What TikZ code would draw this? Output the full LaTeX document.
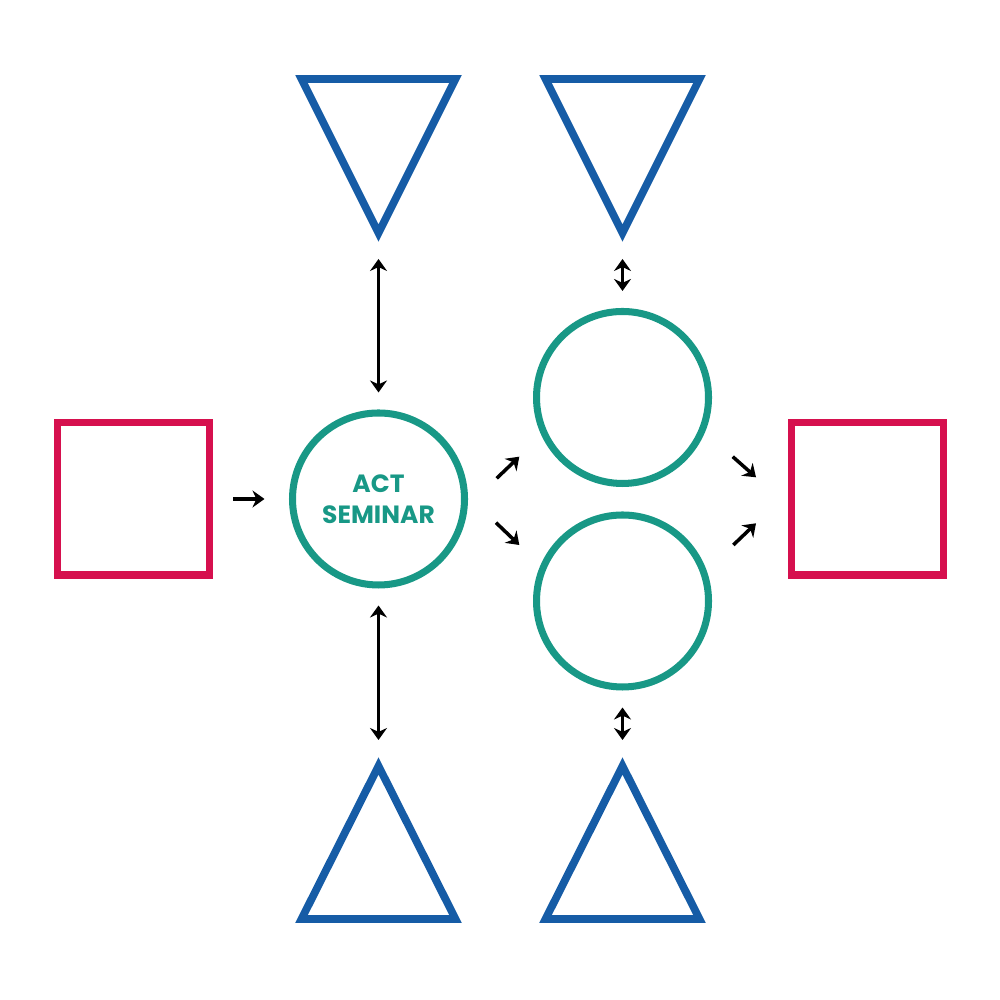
\documentclass[tikz,border=0pt]{standalone}
\usepackage{fontspec}
\setsansfont{Poppins}
\usetikzlibrary{arrows.meta}
\definecolor{actpink}{RGB}{214,16,78}
\definecolor{actblue}{RGB}{22,92,166}
\definecolor{actteal}{RGB}{24,152,134}

\begin{document}
\begin{tikzpicture}[
  box/.style={draw=actpink, line width=2pt, minimum size=1.52cm, inner sep=0pt},
  ring/.style={circle, draw=actteal, line width=2pt, minimum size=1.72cm, inner sep=0pt},
  tri/.style={draw=actblue, line width=2.2pt},
  arr/.style={line width=1pt, -{Stealth[length=1.2mm,width=1.7mm]}},
  dbl/.style={line width=1pt, {Stealth[length=1.2mm,width=1.7mm]}-{Stealth[length=1.2mm,width=1.7mm]}, shorten <=0.17cm, shorten >=0.17cm}
]
\useasboundingbox (0,0) rectangle (10,10);

% squares
\node [box] (inL) at (1.335,5.01) {};
\node [box] (outR) at (8.675,5.01) {};

% circles
\node [ring, text=actteal, font=\sffamily\bfseries\fontsize{7.1}{8.7}\selectfont, align=center] (act) at (3.785,5.01) {ACT\\SEMINAR};
\node [ring] (up) at (6.225,6.025) {};
\node [ring] (down) at (6.225,3.99) {};

% triangles
\draw [tri] (3.015,9.21) -- (4.555,9.21) -- (3.785,7.67) -- cycle;
\draw [tri] (5.455,9.21) -- (6.995,9.21) -- (6.225,7.67) -- cycle;
\draw [tri] (3.015,0.81) -- (4.555,0.81) -- (3.785,2.34) -- cycle;
\draw [tri] (5.455,0.81) -- (6.995,0.81) -- (6.225,2.34) -- cycle;
\coordinate (tl) at (3.785,7.58);
\coordinate (tr) at (6.225,7.58);
\coordinate (bl) at (3.785,2.43);
\coordinate (br) at (6.225,2.43);

% vertical links
\draw [dbl] (act) -- (tl);
\draw [dbl] (act) -- (bl);
\draw [dbl] (up) -- (tr);
\draw [dbl] (down) -- (br);

% into the seminar
\draw [arr, shorten <=0.2cm, shorten >=0.245cm] (inL) -- (act);

% diagonal arrows
\coordinate (a1) at (4.967,5.217);
\coordinate (a2) at (5.193,5.433);
\coordinate (b1) at (4.960,4.773);
\coordinate (b2) at (5.193,4.550);
\coordinate (c1) at (7.327,5.433);
\coordinate (c2) at (7.560,5.227);
\coordinate (d1) at (7.333,4.550);
\coordinate (d2) at (7.560,4.767);
\draw [arr] (a1) -- (a2);
\draw [arr] (b1) -- (b2);
\draw [arr] (c1) -- (c2);
\draw [arr] (d1) -- (d2);

\end{tikzpicture}
\end{document}
